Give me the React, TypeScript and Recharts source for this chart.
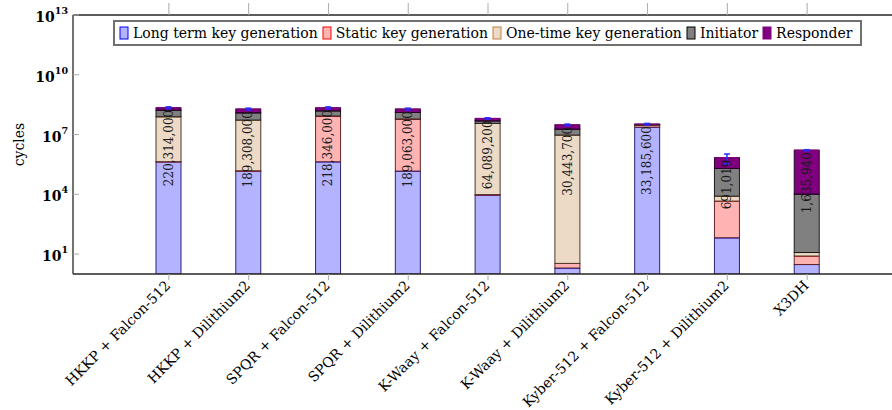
import React from 'react';
import { BarChart, Bar, XAxis, YAxis, ErrorBar, LabelList, Legend } from 'recharts';

const FONT = '"DejaVu Serif", serif';
const PLOT_TOP = 15;

const categories = [
  'HKKP + Falcon-512',
  'HKKP + Dilithium2',
  'SPQR + Falcon-512',
  'SPQR + Dilithium2',
  'K-Waay + Falcon-512',
  'K-Waay + Dilithium2',
  'Kyber-512 + Falcon-512',
  'Kyber-512 + Dilithium2',
  'X3DH',
];

// cycles spent in each phase
const longTerm = [4.3e5, 1.47e5, 4.3e5, 1.47e5, 9.1e3, 2, 2.35e7, 66, 3];
const staticKey = [5e3, 5e3, 8.4e7, 5.95e7, 600, 1.4, 6.5e6, 4.5e3, 5];
const oneTime = [7.75e7, 5.3e7, 1e5, 1e5, 3.63e7, 9.4e6, 2e5, 3.5e3, 4];
const initiator = [9.1e7, 7.1e7, 7.15e7, 6.91e7, 1.27e7, 9.3e6, 1.5e6, 1.92e5, 1.03e4];
const responder = [5.13e7, 6.51e7, 6.23e7, 6.02e7, 1.51e7, 1.174e7, 1.49e6, 4.91e5, 1.6256e6];
const errors = [2.5e7, 2.2e7, 2.5e7, 2.2e7, 5e6, 3e6, 3e6, 3.6e5, 1e5];
const totalLabels = [
  '220,314,000',
  '189,308,000',
  '218,346,000',
  '189,063,000',
  '64,089,200',
  '30,443,700',
  '33,185,600',
  '691,019',
  '1,635,940',
];
const yTicks = [10, 1e4, 1e7, 1e10, 1e13];

const seriesKeys = ['lt', 'st', 'ot', 'ini', 'res'];
const seriesNames = [
  'Long term key generation',
  'Static key generation',
  'One-time key generation',
  'Initiator',
  'Responder',
];
const fills = ['#b3b3ff', '#ffb3b3', '#ecd9c6', '#808080', '#800080'];
const edges = ['#0000ff', '#ff0000', '#bf8040', '#000000', '#800080'];
const sides = ['#262673', '#662626', '#4d3926', '#1a1a1a', '#2a002a'];
const iconStrokes = ['#0000ff', '#ff0000', '#bf8040', '#000000', '#800080'];

const seriesValues = [longTerm, staticKey, oneTime, initiator, responder];

const data = categories.map((name, i) => {
  const row: any = { name, err: errors[i], total: totalLabels[i] };
  let cum = 0;
  seriesValues.forEach((arr, k) => {
    const lo = cum;
    cum += arr[i];
    row[seriesKeys[k]] = [Math.max(lo, 1), cum];
  });
  return row;
});

const makeShape = (k: number) => (props: any) => {
  const { x, y, width, height } = props;
  if (!(height > 0.05) || !isFinite(y)) return <g />;
  return (
    <g>
      <rect x={x} y={y} width={width} height={height} fill={fills[k]} stroke={sides[k]} strokeWidth={1} />
      <line x1={x} x2={x + width} y1={y} y2={y} stroke={edges[k]} strokeWidth={1.2} />
    </g>
  );
};

const YTick = (p: any) => {
  const { x, y, payload } = p;
  const exp = Math.round(Math.log10(payload.value));
  return (
    <g>
      <line x1={x + 5} x2={x + 11} y1={y} y2={y} stroke="#aaaaaa" strokeWidth={1} />
      <text x={x} y={y + 7} textAnchor="end" fontFamily={FONT} fontWeight="bold" fontSize={14} fill="#000">
        <tspan>10</tspan>
        <tspan dy={-8} fontSize={9.5}>{exp}</tspan>
      </text>
    </g>
  );
};

const XTick = (p: any) => {
  const { x, y, payload } = p;
  const ax = x - 1;
  const ay = y + 1;
  return (
    <g>
      {/* mirrored tick mark on the top border */}
      <line x1={x} x2={x} y1={PLOT_TOP - 12} y2={PLOT_TOP} stroke="#aaaaaa" strokeWidth={1} />
      <text
        x={ax}
        y={ay}
        transform={`rotate(-45 ${ax} ${ay})`}
        textAnchor="end"
        dy="0.35em"
        fontFamily={FONT}
        fontSize={14}
        fill="#000"
      >
        {payload.value}
      </text>
    </g>
  );
};

const TotalLabel = (p: any) => {
  const vb = p.viewBox || p;
  const cx = vb.x + vb.width / 2;
  const top = vb.y + 2;
  return (
    <text
      x={cx}
      y={top}
      transform={`rotate(-90 ${cx} ${top})`}
      textAnchor="end"
      dy="0.35em"
      fontFamily={FONT}
      fontSize={12}
      fill="#1a1a1a"
    >
      {p.value}
    </text>
  );
};

const YLabel = (p: any) => {
  const vb = p.viewBox;
  const cx = vb.x + 19;
  const cy = vb.y + vb.height / 2;
  return (
    <text
      x={cx}
      y={cy}
      transform={`rotate(-90 ${cx} ${cy})`}
      textAnchor="middle"
      dy="0.35em"
      fontFamily={FONT}
      fontSize={14}
      fill="#000"
    >
      cycles
    </text>
  );
};

const LegendBox = () => (
  <div
    style={{
      boxSizing: 'border-box',
      width: 749,
      height: 26,
      border: '2px solid #707070',
      background: '#fff',
      display: 'flex',
      alignItems: 'center',
      paddingLeft: 4,
      fontFamily: FONT,
      fontSize: 14,
      color: '#000',
      whiteSpace: 'nowrap',
    }}
  >
    {seriesNames.map((n, k) => (
      <div key={n} style={{ display: 'flex', alignItems: 'center', marginRight: 4 }}>
        <svg width={10} height={14} style={{ marginRight: 4 }}>
          <rect x={1} y={1} width={8} height={12} fill={fills[k]} stroke={iconStrokes[k]} strokeWidth={1} />
        </svg>
        <span>{n}</span>
      </div>
    ))}
  </div>
);

export default function App() {
  return (
    <div style={{ position: 'absolute', left: 0, top: 0, width: 892, height: 410, overflow: 'hidden', background: '#fff' }}>
      <BarChart
        width={920}
        height={410}
        data={data}
        margin={{ top: 3, right: 17, left: 0, bottom: 0 }}
        barSize={25}
        barGap={-25}
      >
        <XAxis
          dataKey="name"
          xAxisId={0}
          height={136}
          padding={{ left: 56, right: 56 }}
          interval={0}
          tickSize={6}
          tickMargin={2}
          tickLine={{ stroke: '#aaaaaa' }}
          axisLine={{ stroke: '#262626', strokeWidth: 1.3 }}
          tick={<XTick />}
        />
        <XAxis
          dataKey="name"
          xAxisId="top"
          orientation="top"
          height={12}
          padding={{ left: 56, right: 56 }}
          interval={0}
          tickSize={12}
          tickMargin={0}
          tickLine={false}
          axisLine={{ stroke: '#262626', strokeWidth: 1.3 }}
          tick={false}
        />
        <YAxis
          scale="log"
          domain={[1, 1e13]}
          ticks={yTicks}
          allowDataOverflow
          width={73}
          tickSize={0}
          tickMargin={5}
          tickLine={false}
          axisLine={{ stroke: '#262626', strokeWidth: 1.3 }}
          tick={<YTick />}
          interval={0}
          label={<YLabel />}
        />
        <Legend
          layout="horizontal"
          verticalAlign="middle"
          align="center"
          wrapperStyle={{ left: 113, top: 20, width: 749 }}
          content={<LegendBox />}
        />
        {seriesKeys.map((key, k) => (
          <Bar
            key={key}
            dataKey={key}
            name={seriesNames[k]}
            fill={fills[k]}
            isAnimationActive={false}
            shape={makeShape(k)}
          >
            {k === seriesKeys.length - 1 && (
              <ErrorBar dataKey="err" width={3} stroke="#2a2aff" strokeWidth={1.5} direction="y" />
            )}
            {k === seriesKeys.length - 1 && <LabelList dataKey="total" content={<TotalLabel />} />}
          </Bar>
        ))}
      </BarChart>
    </div>
  );
}
